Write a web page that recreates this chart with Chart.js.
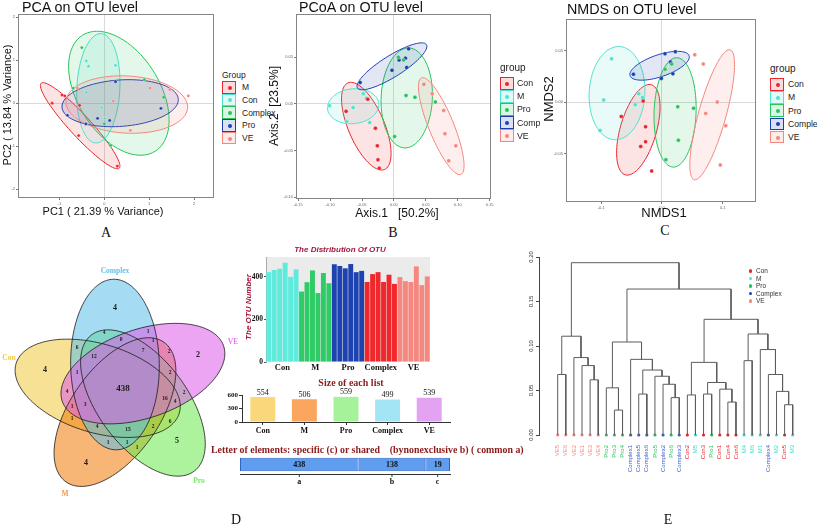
<!DOCTYPE html>
<html>
<head>
<meta charset="utf-8">
<script src="https://cdn.jsdelivr.net/npm/chart.js@4.4.1/dist/chart.umd.min.js"></script>
<style>
body { margin: 0; background: #fff; }
#page { position: relative; width: 817px; height: 527px; overflow: hidden; font-family: "Liberation Sans", Arial, sans-serif; color: #111; }
#page canvas { position: absolute; }
.t { position: absolute; white-space: pre; line-height: 1; }
.c { transform: translate(-50%, -50%); }
.rot { transform: translate(-50%, -50%) rotate(-90deg); }
.serif { font-family: "Liberation Serif", "Times New Roman", serif; }
</style>
</head>
<body>
<div id="page">
  <canvas id="pca" width="218" height="218" style="left:0;top:0"></canvas>
  <canvas id="pcoa" width="215" height="220" style="left:280px;top:0"></canvas>
  <canvas id="nmds" width="207" height="222" style="left:553px;top:0"></canvas>
  <canvas id="venn" width="240" height="287" style="left:0;top:240px"></canvas>
  <canvas id="otu" width="192" height="131" style="left:240px;top:250px"></canvas>
  <canvas id="sizes" width="230" height="54" style="left:222px;top:386px"></canvas>
  <canvas id="letters" width="214" height="36" style="left:238px;top:452px"></canvas>
  <canvas id="tree" width="295" height="270" style="left:522px;top:250px"></canvas>
</div>
<script>
// ---------- data ----------
// ordination scores (PC / axis / NMDS units)
var pcaGroups = ['M', 'Con', 'Complex', 'Pro', 'VE'];
var pcaM = [[-1.16, 0.00], [-0.94, 0.19], [-0.88, 0.17], [-0.55, -0.05], [-0.57, -0.75], [0.29, -1.46]];
var pcaCon = [[-0.40, 0.98], [-0.35, 0.86], [0.25, 0.88], [-0.40, 0.25], [0.01, -0.35], [-0.06, -0.10]];
var pcaComplex = [[-0.50, 1.29], [0.89, 0.55], [1.32, 0.14], [-0.69, 0.35], [0.00, -0.48], [0.14, -0.98]];
var pcaPro = [[0.25, 0.50], [-0.82, -0.28], [-0.15, -0.35], [0.12, -0.40], [1.26, -0.12], [-0.41, -0.48]];
var pcaVE = [[1.02, 0.35], [1.46, 0.32], [1.87, 0.17], [0.58, -0.63], [0.20, 0.05], [-0.60, 0.35]];
// ellipses: centre x, centre y, half major axis (dx, dy), half minor axis (dx, dy)
var pcaEll = [
  [-0.537, -0.523, 0.868, -0.985, 0.173, 0.167],
  [-0.132, 0.346, 0.059, 1.269, 0.478, -0.023],
  [0.324, 0.231, 0.809, -1.346, 0.772, 0.508],
  [0.353, 0.000, 1.294, 0.092, 0.029, -0.538],
  [0.500, -0.031, 1.353, -0.077, -0.037, -0.662]
];

var ordGroups = ['Con', 'M', 'Pro', 'Complex', 'VE'];
var pcoaCon = [[-0.075, -0.008], [-0.041, 0.005], [-0.029, -0.026], [-0.026, -0.045], [-0.025, -0.060], [-0.023, -0.069]];
var pcoaM = [[-0.101, -0.002], [-0.064, -0.004], [-0.048, 0.011], [-0.043, 0.006], [-0.038, -0.020], [-0.074, -0.019]];
var pcoaPro = [[0.007, 0.050], [0.015, 0.047], [0.019, 0.009], [0.033, 0.007], [0.001, -0.035], [0.065, 0.002]];
var pcoaComplex = [[0.023, 0.059], [0.018, 0.049], [0.008, 0.047], [0.020, 0.039], [-0.003, 0.036], [-0.053, 0.023]];
var pcoaVE = [[0.047, 0.021], [0.060, 0.011], [0.078, -0.007], [0.080, -0.032], [0.097, -0.045], [0.086, -0.061]];
var pcoaEll = [
  [-0.0433, -0.0239, 0.0288, -0.0464, 0.0260, 0.00775],
  [-0.0639, -0.0025, 0.0402, 0.00286, 0.00258, -0.01857],
  [0.0201, 0.0064, 0.00258, 0.0536, 0.0402, 0],
  [-0.0031, 0.0403, 0.0541, 0.0232, 0.00866, -0.00971],
  [0.0742, -0.0239, 0.0309, -0.0518, 0.0180, 0.00518]
];

var nmdsCon = [[-0.067, -0.014], [-0.031, 0.001], [-0.027, -0.024], [-0.027, -0.0385], [-0.035, -0.043], [-0.017, -0.067]];
var nmdsM = [[-0.083, 0.042], [-0.096, 0.002], [-0.102, -0.0275], [-0.038, 0.008], [-0.032, 0.0045], [-0.044, -0.0026]];
var nmdsPro = [[0.005, 0.032], [0.016, 0.037], [0.026, -0.0045], [0.052, -0.006], [0.027, -0.037], [0.0065, -0.056]];
var nmdsComplex = [[0.005, 0.047], [0.022, 0.049], [0.014, 0.039], [0.018, 0.0275], [-0.001, 0.023], [-0.047, 0.027]];
var nmdsVE = [[0.054, 0.046], [0.068, 0.037], [0.091, 0.000], [0.072, -0.011], [0.105, -0.023], [0.096, -0.061]];
var nmdsEll = [
  [-0.0389, -0.0269, 0.0216, 0.0437, 0.0285, -0.00505],
  [-0.0740, 0.0087, 0.0027, 0.0453, 0.0459, 0],
  [0.0216, -0.0100, 0.0027, 0.0531, 0.0346, 0],
  [-0.0039, 0.0353, 0.0486, 0.0097, 0.0056, -0.0101],
  [0.0827, -0.0123, 0.0297, 0.0631, 0.0218, -0.00369]
];

// OTU numbers per sample
var otuGroups = ['Con', 'M', 'Pro', 'Complex', 'VE'];
var otuCon = [421, 431, 437, 465, 399, 434];
var otuM = [330, 374, 429, 323, 417, 369];
var otuPro = [458, 450, 439, 459, 421, 427];
var otuComplex = [375, 412, 421, 375, 409, 366];
var otuVE = [398, 379, 375, 448, 360, 401];

var listNames = ['Con', 'M', 'Pro', 'Complex', 'VE'];
var listSizes = [554, 506, 559, 499, 539];

var letterCats = ['a', 'b', 'c'];
var letterCounts = [438, 138, 19];

// venn: set names, unique counts, shared region counts
var vennSets = ['Con', 'M', 'Pro', 'Complex', 'VE'];
var vennUnique = [4, 4, 5, 4, 2];
var vennShared = [438, 4, 0, 1, 1, 6, 12, 7, 2, 1, 2, 4, 16, 2, 3, 4, 1, 4, 15, 2, 6, 1, 1, 1, 1];

// dendrogram
var leafOrder = ['VE5', 'VE6', 'VE2', 'VE1', 'VE3', 'VE4', 'Pro2', 'Pro3', 'Pro4', 'Complex1', 'Complex5', 'Complex6',
  'Pro5', 'Complex2', 'Pro6', 'Complex3', 'Con2', 'M5', 'Con3', 'Pro1', 'Con1', 'Con4', 'Con6', 'M4', 'M6', 'M1',
  'Complex4', 'M2', 'Con5', 'M3'];
// [left, right, height]; a number refers to an earlier merge (1-based)
var merges = [
  ['VE5', 'VE6', 0.068], ['VE3', 'VE4', 0.062], ['VE1', 2, 0.078], ['VE2', 3, 0.087], [1, 4, 0.111],
  ['Pro3', 'Pro4', 0.028], ['Pro2', 6, 0.053], ['Complex5', 'Complex6', 0.046], ['Pro6', 'Complex3', 0.042],
  ['Complex2', 9, 0.057], ['Pro5', 10, 0.066], [8, 11, 0.073], ['Complex1', 12, 0.085], [7, 13, 0.1045],
  ['Con2', 'M5', 0.045], ['Con3', 'Pro1', 0.046], ['Con4', 'Con6', 0.037], ['Con1', 17, 0.0515], [16, 18, 0.059],
  [15, 19, 0.0816], ['M4', 'M6', 0.0835], ['Con5', 'M3', 0.034], ['M2', 22, 0.049], ['Complex4', 23, 0.068],
  ['M1', 24, 0.096], [21, 25, 0.1135], [20, 26, 0.130], [14, 27, 0.164], [5, 28, 0.1936]
];

// ---------- layout / style ----------
var palette = ['#E8262B', '#4DE3CF', '#27C45A', '#1C3FB4', '#F4877E'];
var groupColor = { Con: '#E8262B', M: '#3FDCC8', Pro: '#27C45A', Complex: '#3A5FC8', VE: '#F4877E' };
var otuColors = ['#5EEBDC', '#2FCB66', '#1E43B0', '#F0282B', '#F5877E'];
var listColors = ['#F9D77A', '#FBA65E', '#A6F29A', '#A3E4F5', '#E3A3F2'];
var vennColors = ['#F0C83C', '#F17806', '#6AEA4D', '#5BBFEA', '#DC5BEA'];
var vennLabelColors = ['#EFC94A', '#F39A4A', '#7CE86A', '#5FC3E8', '#E67AEF'];
var vennAxisDeg = [197, 125, 53, -91, -19];
var vennUniquePos = [[45, 370], [86, 463], [177, 441], [115, 308], [198, 355]];
var vennSharedPos = [[123, 389], [104, 333], [121, 340], [148, 332], [153, 341], [77, 348], [94, 357], [143, 351],
  [169, 352], [77, 373], [170, 373], [67, 392], [165, 399], [184, 393], [85, 405], [175, 402], [72, 407], [97, 427],
  [128, 430], [153, 427], [170, 422], [72, 419], [108, 443], [127, 443], [137, 448]];
var vennLabelPos = [[9, 358], [65, 494], [199, 481], [115, 271], [233, 342]];

Chart.defaults.font.family = '"Liberation Sans", Arial, sans-serif';
var SERIF = '"Liberation Serif", "Times New Roman", serif';
var page = document.getElementById('page');

function rgba(hex, a) {
  var n = parseInt(hex.slice(1), 16);
  return 'rgba(' + (n >> 16) + ',' + ((n >> 8) & 255) + ',' + (n & 255) + ',' + a + ')';
}

function text(str, x, y, size, cls, extra) {
  var d = document.createElement('div');
  d.className = 't ' + (cls || '');
  d.textContent = str;
  d.style.left = x + 'px';
  d.style.top = y + 'px';
  d.style.fontSize = size + 'px';
  var parent = page;
  if (extra) {
    if (extra.parent) parent = extra.parent;
    Object.keys(extra).forEach(function (k) { if (k !== 'parent') d.style[k] = extra[k]; });
  }
  parent.appendChild(d);
  return d;
}

// ellipse outlines drawn through the chart scales
function ellipses(items, alpha) {
  return {
    id: 'ellipses',
    beforeDatasetsDraw: function (chart) {
      var ctx = chart.ctx, xs = chart.scales.x, ys = chart.scales.y, a = chart.chartArea;
      ctx.save();
      ctx.beginPath(); ctx.rect(a.left, a.top, a.width, a.height); ctx.clip();
      items.forEach(function (e, i) {
        ctx.beginPath();
        for (var k = 0; k <= 90; k++) {
          var t = k / 90 * Math.PI * 2, c = Math.cos(t), s = Math.sin(t);
          var px = xs.getPixelForValue(e[0] + e[2] * c + e[4] * s);
          var py = ys.getPixelForValue(e[1] + e[3] * c + e[5] * s);
          if (k) ctx.lineTo(px, py); else ctx.moveTo(px, py);
        }
        ctx.closePath();
        ctx.fillStyle = rgba(palette[i], alpha); ctx.fill();
        ctx.strokeStyle = palette[i]; ctx.lineWidth = 1; ctx.stroke();
      });
      ctx.restore();
    }
  };
}

var frame = {
  id: 'frame',
  afterDraw: function (chart) {
    var a = chart.chartArea, ctx = chart.ctx;
    ctx.save();
    ctx.strokeStyle = '#858585'; ctx.lineWidth = 1;
    ctx.strokeRect(Math.round(a.left) + 0.5, Math.round(a.top) + 0.5, Math.round(a.width) - 1, Math.round(a.height) - 1);
    ctx.restore();
  }
};

function ordAxis(r, step, dec, size, horiz) {
  return {
    type: 'linear', min: r[0], max: r[1],
    border: { display: false },
    grid: {
      color: function (c) { return c.tick && Math.abs(c.tick.value) < 1e-9 ? '#dadada' : 'rgba(0,0,0,0)'; },
      tickColor: '#777', tickLength: 2
    },
    ticks: {
      stepSize: step, includeBounds: false, color: '#666', font: { size: 4 }, padding: 1, maxRotation: 0,
      callback: function (v) { return (+v).toFixed(dec); }
    },
    afterFit: function (s) { if (horiz) s.height = size; else s.width = size; }
  };
}

function ordination(id, sets, ells, xr, yr, xStep, yStep, xDec, yDec, pad, yW, xH, r) {
  return new Chart(document.getElementById(id), {
    type: 'scatter',
    data: {
      datasets: sets.map(function (s, i) {
        return {
          data: s.map(function (p) { return { x: p[0], y: p[1] }; }),
          backgroundColor: palette[i], borderColor: 'rgba(255,255,255,0.6)', borderWidth: 0.5, pointRadius: r
        };
      })
    },
    options: {
      responsive: false, animation: false, devicePixelRatio: 1,
      layout: { padding: pad },
      plugins: { legend: { display: false }, tooltip: { enabled: false } },
      scales: { x: ordAxis(xr, xStep, xDec, xH, true), y: ordAxis(yr, yStep, yDec, yW, false) }
    },
    plugins: [ellipses(ells, 0.13), frame]
  });
}

function legend(names, x, titleTop, title, titleSize, boxTop, dy, boxW, boxH, textX, textSize, parent) {
  text(title, x, titleTop, titleSize, '', { parent: parent, color: '#222' });
  names.forEach(function (n, i) {
    var top = boxTop + i * dy;
    var b = document.createElement('div');
    Object.assign(b.style, {
      position: 'absolute', left: x + 'px', top: top + 'px', width: boxW + 'px', height: boxH + 'px',
      boxSizing: 'border-box', border: '1.3px solid ' + palette[i], background: rgba(palette[i], 0.16)
    });
    var dot = document.createElement('div');
    Object.assign(dot.style, {
      position: 'absolute', left: (boxW / 2 - 2.5) + 'px', top: (boxH / 2 - 2.5) + 'px', width: '4px', height: '4px',
      borderRadius: '50%', background: palette[i]
    });
    b.appendChild(dot);
    (parent || page).appendChild(b);
    text(n, textX, top + boxH / 2, textSize, '', { parent: parent, transform: 'translateY(-50%)', color: '#222' });
  });
}

// ---------- panel A / B / C ----------
ordination('pca', [pcaM, pcaCon, pcaComplex, pcaPro, pcaVE], pcaEll, [-1.92, 2.43], [-2.2, 2.07], 1, 1, 0, 0,
  { top: 14, right: 3 }, 18, 20, 1.6);
ordination('pcoa', [pcoaCon, pcoaM, pcoaPro, pcoaComplex, pcoaVE], pcoaEll, [-0.1535, 0.1514], [-0.102, 0.0964],
  0.05, 0.05, 2, 2, { top: 14, right: 2 }, 16, 21, 2);
ordination('nmds', [nmdsCon, nmdsM, nmdsPro, nmdsComplex, nmdsVE], nmdsEll, [-0.158, 0.154], [-0.097, 0.0807],
  0.1, 0.05, 1, 2, { top: 19, right: 2 }, 13, 20, 2);

text('PCA on OTU level', 22, 0, 14.3);
text('PC2 ( 13.84 % Variance)', 7, 105, 11, 'rot');
text('PC1 ( 21.39 % Variance)', 103, 211, 11, 'c');
legend(pcaGroups, 222, 71, 'Group', 8.5, 81, 12.7, 14, 12.5, 242, 8.5);

text('PCoA on OTU level', 299, 0, 14.3);
text('Axis.2  [23.5%]', 274, 106, 12, 'rot');
text('Axis.1   [50.2%]', 397, 213, 12, 'c');
var clipB = document.createElement('div');
Object.assign(clipB.style, { position: 'absolute', left: 0, top: 0, width: '541px', height: '220px', overflow: 'hidden' });
page.appendChild(clipB);
legend(ordGroups, 500, 63, 'group', 10, 77, 13.1, 13.5, 12.5, 517, 8.8, clipB);

text('NMDS on OTU level', 567, 2, 14.3);
text('NMDS2', 548, 99, 13, 'rot');
text('NMDS1', 664, 212, 13, 'c');
legend(ordGroups, 770, 64, 'group', 10, 78, 13.2, 14, 12.5, 788, 8.6);

text('A', 106, 233, 14, 'c serif');
text('B', 393, 233, 14, 'c serif');
text('C', 665, 231, 14, 'c serif');
text('D', 236, 520, 14, 'c serif');
text('E', 668, 520, 14, 'c serif');

// ---------- panel D: venn ----------
var vennDraw = {
  id: 'vennDraw',
  afterDraw: function (chart) {
    var ctx = chart.ctx, xs = chart.scales.x, ys = chart.scales.y;
    var C = [122.7, 388.3];
    var shapes = vennAxisDeg.map(function (deg) {
      var th = deg * Math.PI / 180, ph = (deg - 17) * Math.PI / 180;
      var cx = C[0] + 25 * Math.cos(ph), cy = C[1] + 25 * Math.sin(ph);
      var pts = [];
      for (var k = 0; k <= 120; k++) {
        var t = k / 120 * Math.PI * 2;
        var dx = 85.3 * Math.cos(t), dy = 44.3 * Math.sin(t);
        pts.push([xs.getPixelForValue(cx + dx * Math.cos(th) - dy * Math.sin(th)),
                  ys.getPixelForValue(cy + dx * Math.sin(th) + dy * Math.cos(th))]);
      }
      return pts;
    });
    function path(p) { ctx.beginPath(); p.forEach(function (q, k) { if (k) ctx.lineTo(q[0], q[1]); else ctx.moveTo(q[0], q[1]); }); ctx.closePath(); }
    ctx.save();
    shapes.forEach(function (p, i) { path(p); ctx.fillStyle = rgba(vennColors[i], 0.55); ctx.fill(); });
    shapes.forEach(function (p) { path(p); ctx.strokeStyle = '#1c1c1c'; ctx.lineWidth = 0.8; ctx.stroke(); });
    ctx.textAlign = 'center'; ctx.textBaseline = 'middle'; ctx.fillStyle = '#1a1a1a';
    vennUnique.forEach(function (v, i) {
      ctx.font = 'bold 8px ' + SERIF;
      ctx.fillText(v, xs.getPixelForValue(vennUniquePos[i][0]), ys.getPixelForValue(vennUniquePos[i][1]));
    });
    vennShared.forEach(function (v, i) {
      ctx.font = (i === 0 ? 'bold 9px ' : 'bold 5.5px ') + SERIF;
      ctx.fillText(v, xs.getPixelForValue(vennSharedPos[i][0]), ys.getPixelForValue(vennSharedPos[i][1]));
    });
    ctx.restore();
  }
};
new Chart(document.getElementById('venn'), {
  type: 'scatter',
  data: { datasets: [] },
  options: {
    responsive: false, animation: false, devicePixelRatio: 1,
    layout: { padding: 0 },
    plugins: { legend: { display: false }, tooltip: { enabled: false } },
    scales: {
      x: { type: 'linear', display: false, min: 0, max: 240 },
      y: { type: 'linear', display: false, min: 240, max: 527, reverse: true }
    }
  },
  plugins: [vennDraw]
});
vennSets.forEach(function (n, i) {
  text(n, vennLabelPos[i][0], vennLabelPos[i][1], 7.5, 'c serif', { color: vennLabelColors[i], fontWeight: 'bold' });
});

// ---------- panel D: OTU distribution ----------
var greyPanel = {
  id: 'greyPanel',
  beforeDraw: function (chart) {
    var a = chart.chartArea;
    chart.ctx.save(); chart.ctx.fillStyle = '#EBEBEB';
    chart.ctx.fillRect(a.left, a.top, a.width, a.height); chart.ctx.restore();
  }
};
var otuSets = [otuCon, otuM, otuPro, otuComplex, otuVE];
new Chart(document.getElementById('otu'), {
  type: 'bar',
  data: {
    labels: otuGroups,
    datasets: otuCon.map(function (_, k) {
      return {
        data: otuSets.map(function (g) { return g[k]; }),
        backgroundColor: otuColors, categoryPercentage: 1, barPercentage: 0.9
      };
    })
  },
  options: {
    responsive: false, animation: false, devicePixelRatio: 1,
    layout: { padding: { top: 7, right: 2 } },
    plugins: { legend: { display: false }, tooltip: { enabled: false } },
    scales: {
      x: {
        grid: { display: false, drawTicks: false, tickLength: 0 }, border: { display: false },
        ticks: { autoSkip: false, color: '#111', font: { family: SERIF, size: 8.5, weight: 'bold' }, padding: 1, maxRotation: 0 },
        afterFit: function (s) { s.height = 19; }
      },
      y: {
        min: 0, max: 492,
        grid: { drawOnChartArea: false, tickLength: 2, color: '#555' }, border: { color: '#aaa' },
        ticks: { stepSize: 200, includeBounds: false, color: '#111', font: { family: SERIF, size: 7.5, weight: 'bold' }, padding: 1 },
        afterFit: function (s) { s.width = 26; }
      }
    }
  },
  plugins: [greyPanel]
});
text('The Distribution Of OTU', 340, 250, 8, 'c', { fontStyle: 'italic', fontWeight: 'bold', color: '#A3163A' });
text('The OTU Number', 249, 307, 8, 'rot', { fontStyle: 'italic', fontWeight: 'bold', color: '#A3163A' });

// ---------- panel D: size of each list ----------
var barValues = {
  id: 'barValues',
  afterDatasetsDraw: function (chart) {
    var ctx = chart.ctx;
    ctx.save();
    ctx.font = '8px ' + SERIF; ctx.fillStyle = '#111'; ctx.textAlign = 'center'; ctx.textBaseline = 'bottom';
    chart.getDatasetMeta(0).data.forEach(function (el, i) { ctx.fillText(listSizes[i], el.x, el.y - 0.5); });
    ctx.restore();
  }
};
new Chart(document.getElementById('sizes'), {
  type: 'bar',
  data: { labels: listNames, datasets: [{ data: listSizes, backgroundColor: listColors, categoryPercentage: 1, barPercentage: 0.6 }] },
  options: {
    responsive: false, animation: false, devicePixelRatio: 1,
    layout: { padding: { top: 9, right: 2 } },
    plugins: { legend: { display: false }, tooltip: { enabled: false } },
    scales: {
      x: {
        grid: { drawOnChartArea: false, offset: false, tickLength: 3, color: '#333' }, border: { color: '#333' },
        ticks: { autoSkip: false, color: '#111', font: { family: SERIF, size: 8, weight: 'bold' }, padding: 1, maxRotation: 0 },
        afterFit: function (s) { s.height = 18; }
      },
      y: {
        min: 0, max: 600,
        grid: { drawOnChartArea: false, tickLength: 3, color: '#333' }, border: { color: '#333' },
        ticks: { stepSize: 300, color: '#111', font: { family: SERIF, size: 7, weight: 'bold' }, padding: 1 },
        afterFit: function (s) { s.width = 20; }
      }
    }
  },
  plugins: [barValues]
});
text('Size of each list', 351, 383, 10, 'c serif', { fontWeight: 'bold', color: '#8B1A1A' });

// ---------- panel D: specific / shared elements (bar length on a square-root scale) ----------
var letterMarks = {
  id: 'letterMarks',
  afterDatasetsDraw: function (chart) {
    var ctx = chart.ctx, bottom = chart.chartArea.bottom;
    ctx.save();
    ctx.textAlign = 'center'; ctx.textBaseline = 'middle'; ctx.fillStyle = '#111'; ctx.strokeStyle = '#333';
    letterCounts.forEach(function (v, i) {
      var el = chart.getDatasetMeta(i).data[0], cx = (el.x + el.base) / 2;
      ctx.font = 'bold 8px ' + SERIF; ctx.fillText(v, cx, el.y);
      ctx.beginPath(); ctx.moveTo(cx, bottom); ctx.lineTo(cx, bottom + 3); ctx.stroke();
      ctx.fillText(letterCats[i], cx, bottom + 8);
    });
    ctx.restore();
  }
};
var letterScale = letterCounts.reduce(function (s, v) { return s + Math.sqrt(v); }, 0);
new Chart(document.getElementById('letters'), {
  type: 'bar',
  data: {
    labels: ['elements'],
    datasets: letterCounts.map(function (v) {
      return {
        data: [Math.sqrt(v)], backgroundColor: '#5E9DF0', borderColor: '#2F66C2', borderWidth: 1,
        borderSkipped: false, barPercentage: 0.72, categoryPercentage: 1
      };
    })
  },
  options: {
    indexAxis: 'y', responsive: false, animation: false, devicePixelRatio: 1,
    layout: { padding: { top: 3, left: 2, right: 2 } },
    plugins: { legend: { display: false }, tooltip: { enabled: false } },
    scales: {
      x: {
        stacked: true, min: 0, max: letterScale, ticks: { display: false }, grid: { display: false },
        border: { display: true, color: '#333' }, afterFit: function (s) { s.height = 14; }
      },
      y: { stacked: true, display: false }
    }
  },
  plugins: [letterMarks]
});
text('Letter of elements: specific (c) or shared    (bynonexclusive b) ( common a)', 211, 445, 9.9, 'serif',
  { fontWeight: 'bold', color: '#8B1A1A' });

// ---------- panel E: dendrogram ----------
function leafGroup(n) { return n.replace(/\d+$/, ''); }
var mergeX = [], mergeH = [];
function nodeX(c) { return typeof c === 'string' ? leafOrder.indexOf(c) + 1 : mergeX[c - 1]; }
function nodeH(c) { return typeof c === 'string' ? 0 : mergeH[c - 1]; }
var treeSets = merges.map(function (m) {
  var xa = nodeX(m[0]), xb = nodeX(m[1]);
  var seg = [{ x: xa, y: nodeH(m[0]) }, { x: xa, y: m[2] }, { x: xb, y: m[2] }, { x: xb, y: nodeH(m[1]) }];
  mergeX.push((xa + xb) / 2); mergeH.push(m[2]);
  return { type: 'line', data: seg, borderColor: '#5c5c5c', borderWidth: 1, pointRadius: 0, tension: 0 };
});
treeSets.push({
  type: 'scatter',
  data: leafOrder.map(function (n, i) { return { x: i + 1, y: 0 }; }),
  backgroundColor: leafOrder.map(function (n) { return groupColor[leafGroup(n)]; }),
  borderWidth: 0, pointRadius: 1.6, clip: false
});
// R-style y labels, rotated to run along the axis
var treeYLabels = {
  id: 'treeYLabels',
  afterDraw: function (chart) {
    var ctx = chart.ctx, ys = chart.scales.y, x = chart.chartArea.left - 8;
    ctx.save();
    ctx.font = '6px "Liberation Sans", Arial'; ctx.fillStyle = '#333';
    ctx.textAlign = 'center'; ctx.textBaseline = 'middle';
    ys.ticks.forEach(function (t) {
      ctx.save(); ctx.translate(x, ys.getPixelForValue(t.value)); ctx.rotate(-Math.PI / 2);
      ctx.fillText((+t.value).toFixed(2), 0, 0); ctx.restore();
    });
    ctx.restore();
  }
};
new Chart(document.getElementById('tree'), {
  type: 'scatter',
  data: { datasets: treeSets },
  options: {
    responsive: false, animation: false, devicePixelRatio: 1,
    layout: { padding: { top: 7, right: 5 } },
    plugins: { legend: { display: false }, tooltip: { enabled: false } },
    scales: {
      x: {
        type: 'linear', min: -1.3077, max: 32.382,
        grid: { display: false }, border: { display: false },
        afterBuildTicks: function (s) { s.ticks = leafOrder.map(function (n, i) { return { value: i + 1 }; }); },
        ticks: {
          autoSkip: false, minRotation: 90, maxRotation: 90, padding: 2, font: { size: 6 },
          color: function (c) { return groupColor[leafGroup(leafOrder[c.index] || 'Con1')]; },
          callback: function (v) { return leafOrder[v - 1]; }
        },
        afterFit: function (s) { s.height = 85; }
      },
      y: {
        type: 'linear', min: 0, max: 0.2,
        grid: { drawOnChartArea: false, tickLength: 3, color: '#444' }, border: { color: '#444' },
        ticks: { stepSize: 0.05, display: false },
        afterFit: function (s) { s.width = 17; }
      }
    }
  },
  plugins: [treeYLabels]
});
ordGroups.forEach(function (n, i) {
  var y = 271 + i * 7.5;
  var d = document.createElement('div');
  Object.assign(d.style, { position: 'absolute', left: '748.5px', top: (y - 1.8) + 'px', width: '3.6px', height: '3.6px', borderRadius: '50%', background: palette[i] });
  page.appendChild(d);
  text(n, 756, y, 6.5, '', { transform: 'translateY(-50%)', color: '#333' });
});
</script>
</body>
</html>
